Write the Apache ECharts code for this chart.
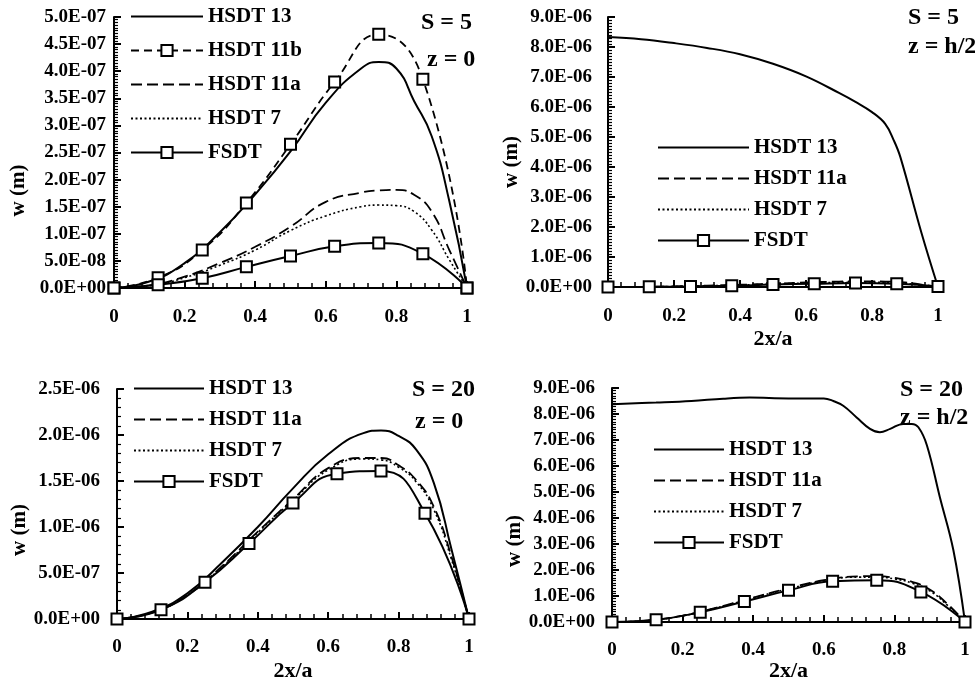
<!DOCTYPE html>
<html>
<head>
<meta charset="utf-8">
<script src="https://cdn.jsdelivr.net/npm/echarts@6/dist/echarts.min.js"></script>
<style>html,body{margin:0;padding:0;background:#fff}#c{width:975px;height:683px;background:#fff}</style>
</head>
<body>
<div id="c"></div>
<script>
// ---------------- DATA ----------------
// x positions (2x/a)
const markerX = [0, 0.125, 0.25, 0.375, 0.5, 0.625, 0.75, 0.875, 1];
const curveX  = [0, 0.1, 0.2, 0.3, 0.4, 0.5, 0.6, 0.7, 0.75, 0.8, 0.85, 0.9, 0.95, 1];

// Panel 1: S = 5, z = 0   (w in units of 1e-7 m)
const p1_hsdt13  = [0, 0.12, 0.46, 1.03, 1.73, 2.52, 3.42, 4.05, 4.17, 4.05, 3.45, 2.80, 1.60, 0];
const p1_hsdt11a = [0, 0.05, 0.21, 0.46, 0.76, 1.13, 1.59, 1.76, 1.80, 1.81, 1.72, 1.41, 0.70, 0];
const p1_hsdt7   = [0, 0.04, 0.19, 0.42, 0.70, 1.06, 1.33, 1.50, 1.53, 1.52, 1.41, 1.07, 0.52, 0];
const p1_hsdt11b = [0, 0.19, 0.70, 1.57, 2.65, 3.80, 4.68, 3.85, 0];
const p1_fsdt    = [0, 0.06, 0.18, 0.39, 0.59, 0.77, 0.83, 0.63, 0];

// Panel 2: S = 5, z = h/2   (w in units of 1e-6 m)
const p2_x13     = [0, 0.1, 0.2, 0.3, 0.4, 0.5, 0.6, 0.7, 0.75, 0.8, 0.84, 0.866, 0.886, 0.95, 1];
const p2_hsdt13  = [8.33, 8.26, 8.13, 7.97, 7.76, 7.44, 7.02, 6.47, 6.17, 5.83, 5.44, 4.89, 4.33, 1.80, 0];
const p2_hsdt11a = [0, 0.005, 0.02, 0.045, 0.075, 0.11, 0.15, 0.18, 0.19, 0.19, 0.18, 0.15, 0.08, 0];
const p2_hsdt7   = [0, 0.004, 0.018, 0.04, 0.068, 0.10, 0.13, 0.15, 0.155, 0.155, 0.145, 0.115, 0.06, 0];
const p2_fsdt    = [0, 0.005, 0.02, 0.04, 0.08, 0.11, 0.13, 0.11, 0.02];

// Panel 3: S = 20, z = 0   (w in units of 1e-6 m)
const p3_hsdt13  = [0, 0.08, 0.28, 0.62, 1.00, 1.42, 1.79, 2.02, 2.05, 1.99, 1.84, 1.48, 0.76, 0];
const p3_hsdt11a = [0, 0.07, 0.26, 0.58, 0.95, 1.30, 1.64, 1.75, 1.75, 1.67, 1.51, 1.22, 0.68, 0];
const p3_hsdt7   = [0, 0.07, 0.26, 0.57, 0.94, 1.29, 1.62, 1.74, 1.73, 1.65, 1.49, 1.19, 0.65, 0];
const p3_fsdt    = [0, 0.10, 0.40, 0.82, 1.26, 1.58, 1.61, 1.15, 0];

// Panel 4: S = 20, z = h/2   (w in units of 1e-6 m)
const p4_x13     = [0, 0.125, 0.225, 0.315, 0.39, 0.5, 0.6, 0.627, 0.656, 0.693, 0.731, 0.759, 0.788, 0.825, 0.849, 0.868, 0.892, 0.929, 0.967, 1];
const p4_hsdt13  = [8.38, 8.44, 8.50, 8.59, 8.63, 8.60, 8.60, 8.50, 8.31, 7.87, 7.43, 7.30, 7.43, 7.62, 7.62, 7.49, 6.80, 4.79, 2.77, 0];
const p4_hsdt11a = [0, 0.06, 0.25, 0.57, 0.94, 1.30, 1.61, 1.76, 1.77, 1.70, 1.55, 1.25, 0.70, 0];
const p4_hsdt7   = [0, 0.06, 0.24, 0.56, 0.93, 1.28, 1.59, 1.73, 1.73, 1.66, 1.50, 1.20, 0.65, 0];
const p4_fsdt    = [0, 0.09, 0.38, 0.79, 1.22, 1.57, 1.61, 1.16, 0];

// y axes (in the panel units above) and the unit each panel's labels are written in
const yUnit     = [1e-7, 1e-6, 1e-6, 1e-6];
const yMax      = [5, 9, 2.5, 9];
const yInterval = [0.5, 1, 0.5, 1];
const yMinorSplit = [10, 10, 5, 10];
const panelTitles = [['S = 5', 'z = 0'], ['S = 5', 'z = h/2'], ['S = 20', 'z = 0'], ['S = 20', 'z = h/2']];

// ---------------- BUILD ----------------
const FONT = '"Liberation Serif", "Times New Roman", serif';
const pairs = (xs, ys) => xs.map((x, i) => [x, ys[i]]);

function sci(v) {
  if (Math.abs(v) < 1e-15) return '0.0E+00';
  const s = v.toExponential(1);
  const parts = s.split('e');
  const n = parseInt(parts[1], 10);
  return parts[0] + 'E' + (n < 0 ? '-' : '+') + String(Math.abs(n)).padStart(2, '0');
}

const grids = [
  {left: 114, top: 17, width: 353, height: 271},
  {left: 608, top: 17, width: 330, height: 270},
  {left: 117, top: 389, width: 352, height: 237},
  {left: 612, top: 388, width: 353, height: 239}
];

const xNameGap = [null, 41, 41, 33];
const xLabelMargin = [20, 20, 19, 18];
const yLabelMargin = [8, 16, 17, 17];
const yNameGap = [85, 83, 87, 85];
const yNameShift = [76, 20, 52, 72];

const labelStyle = {fontFamily: FONT, fontWeight: 'bold', fontSize: 19, color: '#000'};

const xAxes = [], yAxes = [];
for (let i = 0; i < 4; i++) {
  xAxes.push({
    type: 'value', gridIndex: i, min: 0, max: 1, interval: 0.2, position: 'bottom',
    name: xNameGap[i] === null ? '' : '2x/a', nameLocation: 'middle', nameGap: xNameGap[i] || 0,
    nameTextStyle: {fontFamily: FONT, fontWeight: 'bold', fontSize: 22, color: '#000'},
    axisLine: {lineStyle: {color: '#000', width: 2}},
    axisTick: {show: true, inside: true, length: 7, lineStyle: {color: '#000', width: 2}},
    minorTick: {show: true, splitNumber: 5, length: 5, lineStyle: {color: '#000', width: 1.5}},
    splitLine: {show: false},
    axisLabel: Object.assign({margin: xLabelMargin[i], showMinLabel: true, showMaxLabel: true,
      formatter: v => String(+v.toFixed(1))}, labelStyle)
  });
  const unit = yUnit[i];
  yAxes.push({
    type: 'value', gridIndex: i, min: 0, max: yMax[i], interval: yInterval[i], position: 'left',
    name: 'w (m)', nameLocation: 'middle', nameGap: yNameGap[i],
    nameTextStyle: {fontFamily: FONT, fontWeight: 'bold', fontSize: 21, color: '#000',
      padding: [0, yNameShift[i], 0, 0]},
    axisLine: {lineStyle: {color: '#000', width: 2}},
    axisTick: {show: true, inside: true, length: 7, lineStyle: {color: '#000', width: 2}},
    minorTick: {show: true, splitNumber: yMinorSplit[i], length: 4, lineStyle: {color: '#000', width: 1.2}},
    splitLine: {show: false},
    axisLabel: Object.assign({margin: yLabelMargin[i], formatter: v => sci(v * unit)}, labelStyle)
  });
}

const styles = {
  'HSDT 13':  {lineStyle: {color: '#000', width: 2, type: 'solid'}, symbol: 'none'},
  'HSDT 11b': {lineStyle: {color: '#000', width: 1.8, type: [8, 5]}, symbol: 'emptyRect', symbolSize: 11},
  'HSDT 11a': {lineStyle: {color: '#000', width: 1.8, type: [11, 5]}, symbol: 'none'},
  'HSDT 7':   {lineStyle: {color: '#000', width: 1.6, type: [2, 2.5]}, symbol: 'none'},
  'FSDT':     {lineStyle: {color: '#000', width: 2, type: 'solid'}, symbol: 'emptyRect', symbolSize: 11}
};
function mkSeries(panel, name, data, smooth) {
  const st = styles[name];
  return {
    type: 'line', name: name, xAxisIndex: panel, yAxisIndex: panel, data: data,
    smooth: smooth, symbol: st.symbol, symbolSize: st.symbolSize || 0,
    showSymbol: st.symbol !== 'none', lineStyle: st.lineStyle,
    itemStyle: {color: '#000', borderColor: '#000', borderWidth: 1.6}
  };
}

const series = [
  mkSeries(0, 'HSDT 13',  pairs(curveX, p1_hsdt13), 0.5),
  mkSeries(0, 'HSDT 11b', pairs(markerX, p1_hsdt11b), 0.5),
  mkSeries(0, 'HSDT 11a', pairs(curveX, p1_hsdt11a), 0.5),
  mkSeries(0, 'HSDT 7',   pairs(curveX, p1_hsdt7), 0.5),
  mkSeries(0, 'FSDT',     pairs(markerX, p1_fsdt), 0.5),

  mkSeries(1, 'HSDT 13',  pairs(p2_x13, p2_hsdt13), 0.4),
  mkSeries(1, 'HSDT 11a', pairs(curveX, p2_hsdt11a), 0.5),
  mkSeries(1, 'HSDT 7',   pairs(curveX, p2_hsdt7), 0.5),
  mkSeries(1, 'FSDT',     pairs(markerX, p2_fsdt), 0.5),

  mkSeries(2, 'HSDT 13',  pairs(curveX, p3_hsdt13), 0.5),
  mkSeries(2, 'HSDT 11a', pairs(curveX, p3_hsdt11a), 0.5),
  mkSeries(2, 'HSDT 7',   pairs(curveX, p3_hsdt7), 0.5),
  mkSeries(2, 'FSDT',     pairs(markerX, p3_fsdt), 0.5),

  mkSeries(3, 'HSDT 13',  pairs(p4_x13, p4_hsdt13), 0.4),
  mkSeries(3, 'HSDT 11a', pairs(curveX, p4_hsdt11a), 0.5),
  mkSeries(3, 'HSDT 7',   pairs(curveX, p4_hsdt7), 0.5),
  mkSeries(3, 'FSDT',     pairs(markerX, p4_fsdt), 0.5)
];

// legend entries: lines without markers hide the default legend symbol
const noMark = {color: 'rgba(0,0,0,0)', borderColor: 'rgba(0,0,0,0)', borderWidth: 0, opacity: 0};
const legItem = name => (styles[name].symbol === 'none' ? {name: name, itemStyle: noMark} : {name: name});
const legendText = {fontFamily: FONT, fontWeight: 'bold', fontSize: 21, color: '#000'};
const legendBase = {orient: 'vertical', itemHeight: 14, itemGap: 12, selectedMode: false, textStyle: legendText, padding: 0};
const legends = [
  Object.assign({}, legendBase, {data: ['HSDT 13', 'HSDT 11b', 'HSDT 11a', 'HSDT 7', 'FSDT'].map(legItem), left: 130, top: 6, itemWidth: 72, itemGap: 13}),
  Object.assign({}, legendBase, {data: ['HSDT 13', 'HSDT 11a', 'HSDT 7', 'FSDT'].map(legItem), left: 657, top: 137, itemWidth: 91, itemGap: 10}),
  Object.assign({}, legendBase, {data: ['HSDT 13', 'HSDT 11a', 'HSDT 7', 'FSDT'].map(legItem), left: 133, top: 378, itemWidth: 70, itemGap: 10}),
  Object.assign({}, legendBase, {data: ['HSDT 13', 'HSDT 11a', 'HSDT 7', 'FSDT'].map(legItem), left: 653, top: 439, itemWidth: 70, itemGap: 10})
];

// panel annotations as title components
const titlePos = [[[421, 11], [427, 48]], [[908, 6], [908, 35]], [[412, 378], [415, 410]], [[900, 378], [900, 406]]];
const titles = [];
for (let i = 0; i < 4; i++) {
  for (let j = 0; j < 2; j++) {
    titles.push({text: panelTitles[i][j], left: titlePos[i][j][0], top: titlePos[i][j][1], padding: 0,
      textStyle: {fontFamily: FONT, fontWeight: 'bold', fontSize: 24, color: '#000'}});
  }
}

const chart = echarts.init(document.getElementById('c'));
chart.setOption({
  animation: false,
  title: titles,
  grid: grids,
  xAxis: xAxes,
  yAxis: yAxes,
  legend: legends,
  series: series
});
</script>
</body>
</html>
